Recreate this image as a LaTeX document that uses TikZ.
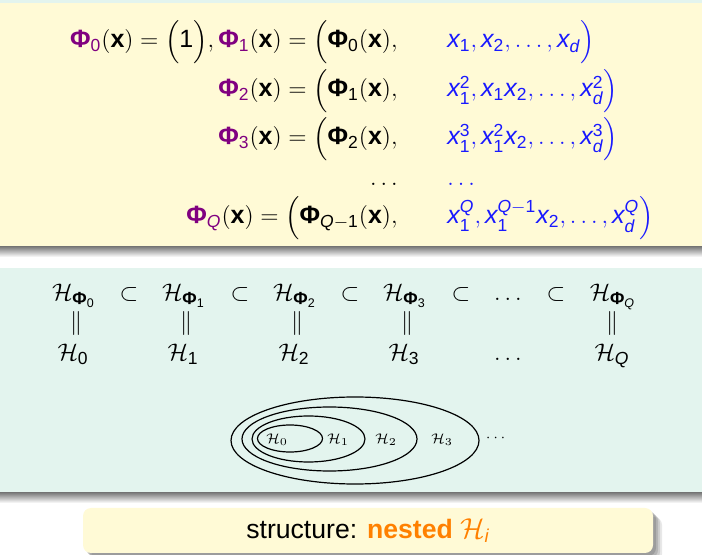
\documentclass[tikz,border=0pt]{standalone}
\usepackage{amsmath}
\usepackage{fontspec}
\setmainfont{Liberation Sans}
\newfontfamily\lmrom{Latin Modern Roman}
\usetikzlibrary{shadows}

\definecolor{slideyellow}{RGB}{255,250,214}
\definecolor{slidegreen}{RGB}{227,244,238}
\definecolor{phipurple}{RGB}{128,0,128}
\definecolor{featblue}{RGB}{25,25,255}
\definecolor{nestorange}{RGB}{255,128,0}

% digits, letters and Phi taken from the text font
\newcommand{\dg}[1]{\text{#1}}
\newcommand{\Phib}{\text{\bfseries Φ}}
\newcommand{\Ph}[1]{{\color{phipurple}\Phib_{#1}}(\mathbf{x})}
\newcommand{\Pk}[1]{\Phib_{#1}(\mathbf{x})}
\newcommand{\vx}{\mathit{x}}
\newcommand{\vd}{\mathit{d}}
\newcommand{\vQ}{\mathit{Q}}

\tikzset{
  eqtext/.style={inner sep=0pt,font=\fontsize{12.5}{15}\selectfont},
  eqleft/.style={eqtext,anchor=base east},
  eqright/.style={eqtext,anchor=base west,text=featblue},
  hrow/.style={inner sep=0pt,anchor=base,font=\fontsize{12.5}{15}\selectfont},
  nestlabel/.style={inner sep=0pt,font=\lmrom\fontsize{7.5}{9}\selectfont},
  structbox/.style={fill=slideyellow,rounded corners=4pt,inner sep=0pt,
    minimum width=285pt,minimum height=22.5pt,
    font=\fontsize{13.3}{15}\selectfont,
    drop shadow={shadow xshift=1.5pt,shadow yshift=-1.5pt,opacity=.3,fill=black!60},
    drop shadow={shadow xshift=2.5pt,shadow yshift=-2.5pt,opacity=.25,fill=black!60},
    drop shadow={shadow xshift=3.5pt,shadow yshift=-3.5pt,opacity=.2,fill=black!60},
    drop shadow={shadow xshift=4.5pt,shadow yshift=-4.5pt,opacity=.15,fill=black!60}}
}

\begin{document}
\begin{tikzpicture}[x=0.5pt,y=-0.5pt]
    \useasboundingbox (0,0) rectangle (702,555);
    % slide backgrounds
    \fill[slidegreen] (0,0) rectangle (702,3);
    \fill[slideyellow] (0,3) rectangle (702,247);
    \shade[top color=black!50,bottom color=white] (0,247) rectangle (702,257);
    \fill[slidegreen] (0,268) rectangle (702,493);
    \shade[top color=black!50,bottom color=white] (0,493) rectangle (702,503);

    % feature transforms
    \node[eqleft] (phione) at (398,48) {$\Ph{\dg{0}} = \Bigl(\dg{1}\Bigr), \Ph{\dg{1}} = \Bigl(\Pk{\dg{0}},$};
    \node[eqright] (featone) at (447,48) {$\vx_{\dg{1}}, \vx_{\dg{2}}, \ldots, \vx_{\vd}\Bigr)$};
    \node[eqleft] (phitwo) at (398,97) {$\Ph{\dg{2}} = \Bigl(\Pk{\dg{1}},$};
    \node[eqright] (feattwo) at (447,97) {$\vx_{\dg{1}}^{\dg{2}}, \vx_{\dg{1}}\vx_{\dg{2}}, \ldots, \vx_{\vd}^{\dg{2}}\Bigr)$};
    \node[eqleft] (phithree) at (398,145) {$\Ph{\dg{3}} = \Bigl(\Pk{\dg{2}},$};
    \node[eqright] (featthree) at (447,145) {$\vx_{\dg{1}}^{\dg{3}}, \vx_{\dg{1}}^{\dg{2}}\vx_{\dg{2}}, \ldots, \vx_{\vd}^{\dg{3}}\Bigr)$};
    \node[eqleft] (phidots) at (398,186) {$\ldots$};
    \node[eqright] (featdots) at (447,186) {$\ldots$};
    \node[eqleft] (phiQ) at (398,224) {$\Ph{\vQ} = \Bigl(\Pk{\vQ-\dg{1}},$};
    \node[eqright] (featQ) at (447,224) {$\vx_{\dg{1}}^{\vQ}, \vx_{\dg{1}}^{\vQ-\dg{1}}\vx_{\dg{2}}, \ldots, \vx_{\vd}^{\vQ}\Bigr)$};

    % hypothesis sets
    \foreach \i/\xc in {0/74,1/184,2/295,3/405}{
        \node[hrow] (hphi\i) at (\xc,301) {$\mathcal{H}_{\Phib_{\dg{\i}}}$};
        \node[hrow] (heq\i) at (\xc+2,330) {$\Vert$};
        \node[hrow] (h\i) at (\xc-1,361) {$\mathcal{H}_{\dg{\i}}$};
    }
    \node[hrow] (hphiQ) at (613,301) {$\mathcal{H}_{\Phib_{\vQ}}$};
    \node[hrow] (heqQ) at (612,330) {$\Vert$};
    \node[hrow] (hQ) at (612,361) {$\mathcal{H}_{\vQ}$};
    \node[hrow] (hphidots) at (508,301) {$\ldots$};
    \node[hrow] (hdots) at (508,361) {$\ldots$};
    \foreach \xc [count=\k] in {129,240,350,461,556}
        \node[hrow] (sub\k) at (\xc,301) {$\subset$};

    % nested sets
    \draw[semithick] (355,440.5) ellipse [x radius=124,y radius=43.5];
    \draw[semithick] (329.5,439) ellipse [x radius=87.5,y radius=32];
    \draw[semithick] (308.5,439) ellipse [x radius=56.5,y radius=23];
    \draw[semithick] (290,438.5) ellipse [x radius=32.5,y radius=13.5];
    \node[nestlabel] (nestzero) at (277,440) {$\mathcal{H}_{\text{0}}$};
    \node[nestlabel] (nestone) at (338,440) {$\mathcal{H}_{\text{1}}$};
    \node[nestlabel] (nesttwo) at (386,440) {$\mathcal{H}_{\text{2}}$};
    \node[nestlabel] (nestthree) at (442,440) {$\mathcal{H}_{\text{3}}$};
    \node[nestlabel] (nestdots) at (497,438) {$\cdots$};

    % summary
    \node[structbox] (structure) at (368,530.5) {structure: \textcolor{nestorange}{\textbf{nested} $\mathcal{H}_{\mathit{i}}$}};
\end{tikzpicture}
\end{document}
